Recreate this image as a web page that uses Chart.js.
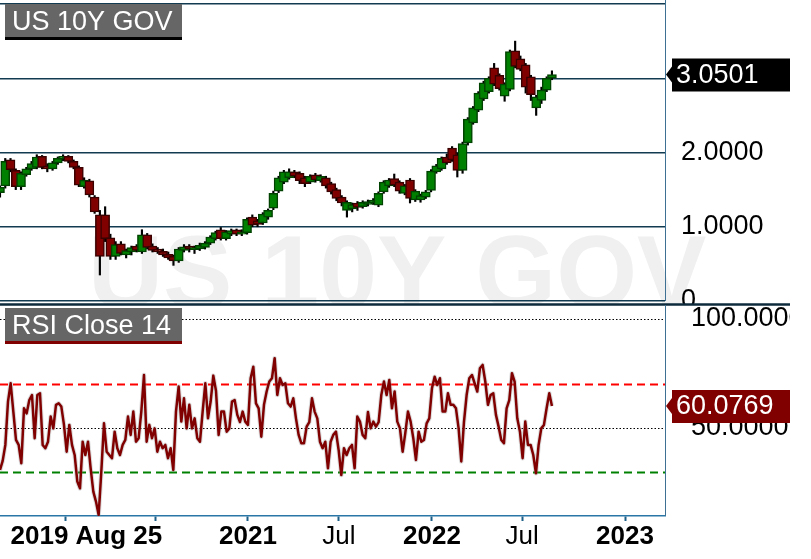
<!DOCTYPE html>
<html>
<head>
<meta charset="utf-8">
<title>US 10Y GOV</title>
<script src="https://cdn.jsdelivr.net/npm/chart.js@4.4.0/dist/chart.umd.min.js"></script>
<style>
  body { margin: 0; background: #fff; }
  #top { position: absolute; left: 0; top: 0; }
  #rsi { position: absolute; left: 0; top: 303px; }
</style>
</head>
<body>
<canvas id="top" width="790" height="305"></canvas>
<canvas id="rsi" width="790" height="256"></canvas>
<script>
// price candles, oldest first (Aug 2019 .. Aug 2022)
const opens = [
  1.46, 1.55, 1.90, 1.76, 1.54, 1.70, 1.78, 1.80, 1.95, 1.82,
  1.78, 1.86, 1.91, 1.95, 1.88, 1.80, 1.54, 1.62, 1.40, 1.16,
  1.16, 0.85, 0.60, 0.77, 0.62, 0.66, 0.74, 0.66, 0.89, 0.74,
  0.70, 0.67, 0.63, 0.60, 0.54, 0.68, 0.74, 0.69, 0.70, 0.72,
  0.78, 0.84, 0.96, 0.84, 0.90, 0.96, 0.90, 0.92, 1.13, 1.08,
  1.05, 1.13, 1.25, 1.48, 1.60, 1.66, 1.74, 1.72, 1.66, 1.60,
  1.70, 1.62, 1.66, 1.58, 1.50, 1.40, 1.22, 1.24, 1.32, 1.27,
  1.30, 1.32, 1.29, 1.47, 1.55, 1.65, 1.60, 1.45, 1.63, 1.36,
  1.36, 1.40, 1.49, 1.74, 1.78, 1.94, 2.06, 1.97, 1.76, 2.13,
  2.40, 2.57, 2.72, 2.82, 3.14, 3.04, 2.76, 2.85, 3.37, 3.26,
  3.18, 3.02, 2.60, 2.70, 2.84, 3.00
];
const highs = [
  1.55, 1.92, 1.92, 1.78, 1.74, 1.80, 1.88, 1.97, 1.96, 1.85,
  1.88, 1.94, 1.97, 1.96, 1.90, 1.82, 1.66, 1.64, 1.42, 1.22,
  1.27, 0.90, 0.80, 0.80, 0.70, 0.74, 0.76, 0.96, 0.91, 0.77,
  0.72, 0.70, 0.66, 0.62, 0.72, 0.76, 0.76, 0.74, 0.78, 0.80,
  0.88, 0.94, 0.99, 0.95, 0.97, 0.97, 0.96, 1.12, 1.16, 1.10,
  1.19, 1.24, 1.48, 1.68, 1.76, 1.78, 1.76, 1.74, 1.68, 1.70,
  1.72, 1.70, 1.68, 1.60, 1.52, 1.42, 1.35, 1.32, 1.34, 1.35,
  1.36, 1.38, 1.47, 1.62, 1.65, 1.71, 1.62, 1.57, 1.65, 1.50,
  1.44, 1.49, 1.77, 1.84, 1.94, 1.98, 2.08, 1.99, 2.14, 2.47,
  2.62, 2.82, 2.96, 3.02, 3.20, 3.06, 2.94, 3.38, 3.50, 3.30,
  3.20, 3.04, 2.77, 2.88, 3.02, 3.10
];
const lows = [
  1.40, 1.52, 1.74, 1.50, 1.50, 1.68, 1.76, 1.78, 1.78, 1.74,
  1.76, 1.84, 1.89, 1.86, 1.78, 1.54, 1.52, 1.40, 1.18, 0.35,
  0.80, 0.56, 0.56, 0.62, 0.58, 0.62, 0.66, 0.64, 0.70, 0.66,
  0.64, 0.60, 0.56, 0.48, 0.52, 0.66, 0.66, 0.64, 0.68, 0.70,
  0.76, 0.82, 0.82, 0.82, 0.88, 0.88, 0.88, 0.90, 1.00, 1.00,
  1.03, 1.10, 1.23, 1.46, 1.58, 1.64, 1.66, 1.58, 1.54, 1.58,
  1.60, 1.60, 1.52, 1.44, 1.35, 1.28, 1.13, 1.20, 1.22, 1.25,
  1.28, 1.30, 1.27, 1.45, 1.53, 1.54, 1.45, 1.43, 1.32, 1.34,
  1.33, 1.38, 1.47, 1.72, 1.76, 1.84, 1.88, 1.67, 1.72, 2.10,
  2.38, 2.55, 2.70, 2.80, 2.90, 2.84, 2.69, 2.83, 3.14, 3.10,
  2.80, 2.70, 2.50, 2.66, 2.82, 2.98
];
const closes = [
  1.53, 1.88, 1.77, 1.54, 1.72, 1.78, 1.85, 1.94, 1.80, 1.78,
  1.86, 1.92, 1.95, 1.88, 1.80, 1.56, 1.63, 1.43, 1.20, 0.60,
  0.84, 0.60, 0.76, 0.64, 0.68, 0.72, 0.68, 0.89, 0.72, 0.68,
  0.66, 0.62, 0.58, 0.54, 0.70, 0.73, 0.70, 0.72, 0.75, 0.78,
  0.86, 0.92, 0.84, 0.93, 0.95, 0.90, 0.93, 1.10, 1.02, 1.03,
  1.17, 1.22, 1.45, 1.66, 1.74, 1.74, 1.68, 1.62, 1.58, 1.68,
  1.63, 1.68, 1.55, 1.47, 1.38, 1.32, 1.33, 1.30, 1.26, 1.33,
  1.34, 1.36, 1.45, 1.60, 1.63, 1.56, 1.48, 1.55, 1.38, 1.48,
  1.42, 1.47, 1.75, 1.82, 1.92, 1.86, 1.90, 1.76, 2.12, 2.45,
  2.60, 2.80, 2.94, 3.00, 2.92, 2.86, 2.92, 3.36, 3.16, 3.12,
  2.88, 2.78, 2.75, 2.84, 3.00, 3.0501
];

// RSI(14) on the close, same time span, finer steps
const rsiValues = [
  30.7, 34.9, 42.2, 62.1, 70.5, 57.5, 44.5, 42.2, 33.8, 59.0,
  56.7, 62.8, 65.1, 45.3, 65.1, 65.9, 42.2, 40.7, 43.7, 55.2,
  49.8, 60.6, 61.3, 59.8, 51.4, 39.1, 51.4, 42.2, 37.6, 25.4,
  22.3, 43.7, 37.6, 43.7, 31.5, 20.8, 16.2, 10.1, 30.0, 52.1,
  39.1, 37.6, 36.1, 48.3, 40.7, 37.6, 42.2, 44.5, 55.2, 46.8,
  57.5, 43.7, 45.3, 57.5, 74.3, 43.7, 51.4, 45.3, 49.8, 39.1,
  43.7, 40.7, 42.2, 36.1, 40.7, 30.7, 57.5, 69.0, 52.9, 63.6,
  49.8, 60.6,
  49.8, 54.4, 45.3, 43.7, 57.5, 70.5, 54.4, 62.1, 74.0, 67.1,
  46.8, 57.5, 57.5, 48.3, 49.8, 62.1, 62.8, 56.0, 52.7, 57.5,
  52.9, 51.4, 72.8, 78.1, 61.3, 59.0, 46.0, 60.6, 66.7, 71.3,
  72.8, 82.0, 65.1, 72.8, 69.7, 70.5, 61.3, 59.8, 63.6, 54.4,
  46.8, 43.0, 43.0, 50.6, 52.7, 63.6, 57.5, 54.4, 43.7, 40.7,
  43.7, 31.5, 43.7, 46.8, 48.3, 39.9, 28.4, 40.7, 37.6, 40.7,
  42.2, 31.5, 55.2, 52.9, 46.8, 45.3, 57.3, 49.8, 52.9,
  50.6, 52.7, 65.1, 71.3, 65.1, 72.0, 59.0, 66.7, 52.9, 49.8,
  39.1, 47.6, 57.5, 52.9, 45.3, 35.3, 48.3, 43.7, 44.5, 52.1,
  54.4, 68.2, 73.5, 69.7, 72.8, 57.5, 57.5, 65.9, 60.6, 60.6,
  59.0, 49.8, 34.6, 52.7, 65.1, 72.8, 74.3, 70.5, 66.7, 77.4,
  78.9, 71.3, 60.6, 65.1, 65.9, 56.0, 50.6, 44.5, 43.0, 59.0,
  62.8, 75.1, 71.3, 54.4, 48.3, 36.1, 52.9, 42.2, 42.2, 37.6,
  29.2, 42.2, 49.8, 51.4, 59.0, 65.9, 60.0769
];

const priceTicks = [0, 1, 2, 3, 4];
const rsiTicks = [50, 100];
const rsiLevels = [100, 70, 50, 30];

// time axis, in RSI steps from the first bar
const xMax = 249.4;
const timeTickPos = [24.4, 32.4, 58.5, 93.0, 127.1, 162.0, 195.8, 234.4];
const timeTickLabels = ['', '2019 Aug 25', '', '2021', 'Jul', '2022', 'Jul', '2023'];

const FONT = '"Liberation Sans", Arial, sans-serif';
Chart.defaults.font.family = FONT;

const candleX = closes.map((c, k) => k * (rsiValues.length - 1) / (closes.length - 1));
const isUp = closes.map((c, k) => c >= opens[k]);

function drawTitle(ctx, y, text, barColor) {
  ctx.save();
  ctx.fillStyle = '#666666';
  ctx.fillRect(5, y, 177, 33);
  ctx.fillStyle = barColor;
  ctx.fillRect(5, y + 33, 177, 3);
  ctx.fillStyle = '#ffffff';
  ctx.font = '27px ' + FONT;
  ctx.textBaseline = 'alphabetic';
  ctx.fillText(text, 12, y + 26);
  ctx.restore();
}

function drawTag(ctx, y, text, color) {
  ctx.save();
  ctx.fillStyle = color;
  ctx.beginPath();
  ctx.moveTo(672, y - 16);
  ctx.lineTo(790, y - 16);
  ctx.lineTo(790, y + 17);
  ctx.lineTo(672, y + 17);
  ctx.lineTo(672, y + 8);
  ctx.lineTo(666, y);
  ctx.lineTo(672, y - 8);
  ctx.closePath();
  ctx.fill();
  ctx.fillStyle = '#ffffff';
  ctx.font = '27px ' + FONT;
  ctx.textBaseline = 'middle';
  ctx.fillText(text, 676, y + 1);
  ctx.restore();
}

const pricePanel = {
  id: 'pricePanel',
  beforeDraw(chart) {
    const ctx = chart.ctx;
    ctx.save();
    ctx.fillStyle = '#f0f0f0';
    ctx.font = 'bold 104px ' + FONT;
    ctx.fillText('US 10Y GOV', 88, 308);
    ctx.restore();
  },
  afterDraw(chart) {
    const ctx = chart.ctx;
    const area = chart.chartArea;
    ctx.save();
    ctx.strokeStyle = '#3e7094';
    ctx.lineWidth = 1;
    ctx.beginPath();
    ctx.moveTo(area.right + 0.5, 0);
    ctx.lineTo(area.right + 0.5, area.bottom);
    ctx.stroke();
    ctx.restore();
    drawTitle(ctx, 4, 'US 10Y GOV', '#000000');
    const last = closes[closes.length - 1];
    drawTag(ctx, chart.scales.y.getPixelForValue(last), last.toFixed(4), '#000000');
  }
};

new Chart(document.getElementById('top'), {
  type: 'bar',
  data: {
    datasets: [
      {
        label: 'body',
        data: closes.map((c, k) => ({ x: candleX[k], y: [opens[k], c] })),
        backgroundColor: isUp.map(u => u ? '#008000' : '#800000'),
        borderColor: isUp.map(u => u ? '#004200' : '#3a0000'),
        borderWidth: 1.5,
        borderSkipped: false,
        barThickness: 9,
        grouped: false,
        order: 1
      },
      {
        label: 'wick',
        data: closes.map((c, k) => ({ x: candleX[k], y: [lows[k], highs[k]] })),
        backgroundColor: '#000000',
        borderWidth: 0,
        barThickness: 1.5,
        grouped: false,
        order: 2
      }
    ]
  },
  options: {
    responsive: false,
    animation: false,
    layout: { padding: { top: 4, bottom: 4, left: 0, right: 0 } },
    plugins: { legend: { display: false }, tooltip: { enabled: false } },
    scales: {
      x: { type: 'linear', min: 0, max: xMax, offset: false, display: false, grid: { offset: false } },
      y: {
        position: 'right',
        min: 0,
        max: 4,
        afterBuildTicks: s => { s.ticks = priceTicks.map(v => ({ value: v })); },
        afterFit: s => { s.width = 125; s.paddingTop = 0; s.paddingBottom = 0; },
        grid: { color: '#123a50', lineWidth: 1.5, drawTicks: false },
        border: { display: false },
        ticks: {
          padding: 16,
          color: '#000000',
          font: { size: 27 },
          callback: v => v === 0 ? '0' : (v === 4 ? '' : v.toFixed(4))
        }
      }
    }
  },
  plugins: [pricePanel]
});

const rsiPanel = {
  id: 'rsiPanel',
  beforeDatasetsDraw(chart) {
    const ctx = chart.ctx;
    const area = chart.chartArea;
    const y = chart.scales.y;
    const styles = {
      100: { color: '#000000', width: 1, dash: [1.5, 2] },
      70: { color: '#ff0000', width: 2, dash: [8, 5] },
      50: { color: '#000000', width: 1, dash: [1.5, 2] },
      30: { color: '#008000', width: 2, dash: [8, 5] }
    };
    ctx.save();
    rsiLevels.forEach(level => {
      const st = styles[level];
      const py = Math.round(y.getPixelForValue(level)) + 0.5;
      ctx.strokeStyle = st.color;
      ctx.lineWidth = st.width;
      ctx.setLineDash(st.dash);
      ctx.beginPath();
      ctx.moveTo(area.left, py);
      ctx.lineTo(area.right, py);
      ctx.stroke();
    });
    ctx.restore();
  },
  afterDraw(chart) {
    const ctx = chart.ctx;
    const area = chart.chartArea;
    ctx.save();
    ctx.strokeStyle = '#0c2a3b';
    ctx.lineWidth = 2.5;
    ctx.beginPath();
    ctx.moveTo(0, 1.5);
    ctx.lineTo(790, 1.5);
    ctx.stroke();
    ctx.strokeStyle = '#3e7094';
    ctx.lineWidth = 1;
    ctx.beginPath();
    ctx.moveTo(area.right + 0.5, area.top);
    ctx.lineTo(area.right + 0.5, area.bottom);
    ctx.stroke();
    ctx.restore();
    drawTitle(ctx, 5, 'RSI Close 14', '#800000');
    const last = rsiValues[rsiValues.length - 1];
    drawTag(ctx, chart.scales.y.getPixelForValue(last), last.toFixed(4), '#800000');
  }
};

const rsiPoints = rsiValues.map((v, i) => ({ x: i, y: v }));

new Chart(document.getElementById('rsi'), {
  type: 'line',
  data: {
    datasets: [
      {
        label: 'RSI Close 14',
        data: rsiPoints,
        borderColor: '#800000',
        borderWidth: 2.5,
        borderJoinStyle: 'round',
        pointRadius: 0,
        tension: 0,
        order: 1
      },
      {
        label: 'halo',
        data: rsiPoints,
        borderColor: 'rgba(140,140,140,0.3)',
        borderWidth: 4.5,
        borderJoinStyle: 'round',
        pointRadius: 0,
        tension: 0,
        order: 2
      }
    ]
  },
  options: {
    responsive: false,
    animation: false,
    layout: { padding: { top: 2, bottom: 0, left: 0, right: 0 } },
    plugins: { legend: { display: false }, tooltip: { enabled: false } },
    scales: {
      x: {
        type: 'linear',
        min: 0,
        max: xMax,
        afterBuildTicks: s => { s.ticks = timeTickPos.map(v => ({ value: v })); },
        afterFit: s => { s.height = 43; s.paddingLeft = 0; s.paddingRight = 0; },
        grid: {
          drawOnChartArea: false,
          drawTicks: true,
          tickLength: 5,
          tickWidth: 2,
          tickColor: c => timeTickLabels[c.index] === '2019 Aug 25' ? 'rgba(0,0,0,0)' : '#1d5f86'
        },
        border: { color: '#2a76a6', width: 1.5 },
        ticks: {
          autoSkip: false,
          maxRotation: 0,
          padding: 0,
          color: '#000000',
          font: c => ({ size: 26, weight: timeTickLabels[c.index] === 'Jul' ? 'normal' : 'bold' }),
          callback: (v, i) => timeTickLabels[i]
        }
      },
      y: {
        position: 'right',
        min: 9.6,
        max: 106.4,
        afterBuildTicks: s => { s.ticks = rsiTicks.map(v => ({ value: v })); },
        afterFit: s => { s.width = 125; s.paddingTop = 0; s.paddingBottom = 0; },
        grid: { display: false },
        border: { display: false },
        ticks: {
          padding: 18,
          color: '#000000',
          font: { size: 27 },
          callback: v => v.toFixed(4)
        }
      }
    }
  },
  plugins: [rsiPanel]
});
</script>
</body>
</html>
